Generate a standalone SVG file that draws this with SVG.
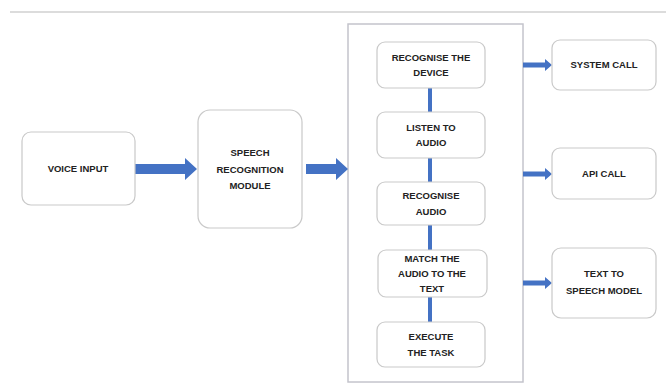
<svg xmlns="http://www.w3.org/2000/svg" width="666" height="383" viewBox="0 0 666 383">
<style>
.box{fill:#fff;stroke:#c9c9c9;stroke-width:1.2}
.t{font-family:"Liberation Sans",Arial,sans-serif;font-weight:bold;font-size:9.5px;fill:#222;text-anchor:middle}
.arr{fill:#4472c4}
.con{stroke:#4472c4;stroke-width:4}
</style>
<rect width="666" height="383" fill="#fff"/>
<line x1="10" y1="12" x2="666" y2="12" stroke="#dcdcdc" stroke-width="2"/>
<rect id="container" x="348" y="24" width="175" height="358" fill="#fff" stroke="#c4c4cc" stroke-width="1.5"/>
<g id="connectors">
<path class="arr" d="M135,164 H185 V158 L197,169 L185,180 V174 H135 Z"/>
<path class="arr" d="M306,164 H336 V158 L348,169 L336,180 V174 H306 Z"/>
<path class="arr" d="M523,62.5 H545 V59 L552,65 L545,71 V67.5 H523 Z"/>
<path class="arr" d="M523,171.5 H545 V168 L552,174 L545,180 V176.5 H523 Z"/>
<path class="arr" d="M523,280.5 H545 V277 L552,283 L545,289 V285.5 H523 Z"/>
<line class="con" x1="430" y1="88" x2="430" y2="112"/>
<line class="con" x1="430" y1="158" x2="430" y2="182"/>
<line class="con" x1="430" y1="225" x2="430" y2="250"/>
<line class="con" x1="430" y1="297" x2="430" y2="322"/>
</g>
<g id="voice-input"><rect class="box" x="22" y="132" width="113" height="73" rx="9"/><text class="t" x="78" y="172">VOICE INPUT</text></g>
<g id="speech-recognition"><rect class="box" x="198" y="110" width="104" height="118" rx="12"/><text class="t" x="250" y="156">SPEECH</text><text class="t" x="250" y="173">RECOGNITION</text><text class="t" x="250" y="189">MODULE</text></g>
<g id="recognise-device"><rect class="box" x="377" y="42" width="108" height="46" rx="8"/><text class="t" x="431" y="61">RECOGNISE THE</text><text class="t" x="431" y="76">DEVICE</text></g>
<g id="listen-audio"><rect class="box" x="377" y="112" width="108" height="46" rx="8"/><text class="t" x="431" y="131">LISTEN TO</text><text class="t" x="431" y="146">AUDIO</text></g>
<g id="recognise-audio"><rect class="box" x="377" y="182" width="108" height="43" rx="8"/><text class="t" x="431" y="199">RECOGNISE</text><text class="t" x="431" y="215">AUDIO</text></g>
<g id="match-audio"><rect class="box" x="378" y="250" width="109" height="47" rx="8"/><text class="t" x="432" y="262">MATCH THE</text><text class="t" x="432" y="277">AUDIO TO THE</text><text class="t" x="432" y="292">TEXT</text></g>
<g id="execute-task"><rect class="box" x="377" y="322" width="108" height="45" rx="8"/><text class="t" x="431" y="340">EXECUTE</text><text class="t" x="431" y="356">THE TASK</text></g>
<g id="system-call"><rect class="box" x="552" y="40" width="104" height="50" rx="8"/><text class="t" x="604" y="68">SYSTEM CALL</text></g>
<g id="api-call"><rect class="box" x="552" y="148" width="104" height="51" rx="8"/><text class="t" x="604" y="177">API CALL</text></g>
<g id="text-to-speech"><rect class="box" x="552" y="248" width="104" height="70" rx="9"/><text class="t" x="604" y="277">TEXT TO</text><text class="t" x="604" y="294">SPEECH MODEL</text></g>
</svg>
